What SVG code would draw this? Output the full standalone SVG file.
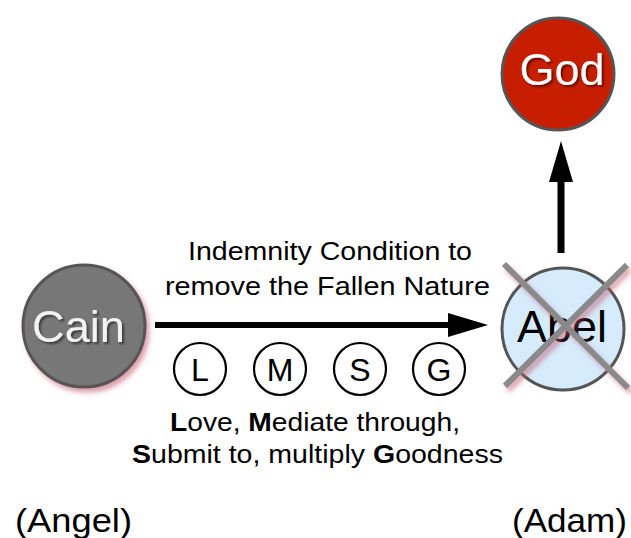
<svg xmlns="http://www.w3.org/2000/svg" width="631" height="538" viewBox="0 0 631 538">
<style>
  text { font-family: "Liberation Sans", Arial, sans-serif; }
  .lbl { font-size: 25px; fill: #000; text-anchor: middle; }
  .big { font-size: 45px; text-anchor: middle; }
  .letter { font-size: 32px; fill: #000; text-anchor: middle; }
  .small { fill: #fff; stroke: #000; stroke-width: 2.2; }
  .node { stroke: #555; stroke-width: 3; }
  .xline { stroke: #8a8a8a; stroke-width: 6; stroke-linecap: butt; }
</style>
<defs>
  <filter id="pinkShadow" x="-30%" y="-30%" width="160%" height="160%">
    <feGaussianBlur in="SourceAlpha" stdDeviation="2.5" result="b"/>
    <feOffset dx="3" dy="4" result="o"/>
    <feFlood flood-color="#c0506a" flood-opacity="0.55"/>
    <feComposite in2="o" operator="in" result="s"/>
    <feMerge><feMergeNode in="s"/><feMergeNode in="SourceGraphic"/></feMerge>
  </filter>
  <filter id="textShadow" x="-20%" y="-20%" width="140%" height="140%">
    <feGaussianBlur in="SourceAlpha" stdDeviation="1.2" result="b"/>
    <feOffset dx="1.5" dy="2" result="o"/>
    <feFlood flood-color="#000" flood-opacity="0.5"/>
    <feComposite in2="o" operator="in" result="s"/>
    <feMerge><feMergeNode in="s"/><feMergeNode in="SourceGraphic"/></feMerge>
  </filter>
</defs>

<g id="connectors">
  <g id="arrow-cain-abel">
    <line x1="155" y1="325" x2="452" y2="325" stroke="#000" stroke-width="6"/>
    <polygon points="448,313 488,325 448,337" fill="#000"/>
  </g>
  <g id="arrow-abel-god">
    <line x1="561" y1="253" x2="561" y2="178" stroke="#000" stroke-width="7"/>
    <polygon points="549,182 561,141 573,182" fill="#000"/>
  </g>
</g>

<g id="node-god">
  <circle cx="558" cy="74" r="56" fill="#c81e00" class="node"/>
  <text x="562" y="85" class="big" fill="#fff" filter="url(#textShadow)">God</text>
</g>

<g id="node-cain">
  <circle cx="84" cy="326" r="61" fill="#777777" class="node" filter="url(#pinkShadow)"/>
  <text x="78.5" y="342" class="big" fill="#f2f2f2" filter="url(#textShadow)" textLength="93" lengthAdjust="spacingAndGlyphs">Cain</text>
</g>

<g id="node-abel">
  <circle cx="563" cy="329" r="61" fill="#d6ecfc" class="node"/>
  <text x="562" y="342" class="big" fill="#000">Abel</text>
  <g filter="url(#pinkShadow)">
    <line x1="504" y1="264" x2="628" y2="388" class="xline"/>
    <line x1="627" y1="265" x2="505" y2="386" class="xline"/>
  </g>
</g>

<g id="label-condition">
  <text x="330" y="260" class="lbl" textLength="284" lengthAdjust="spacingAndGlyphs">Indemnity Condition to</text>
  <text x="327.5" y="295" class="lbl" textLength="325" lengthAdjust="spacingAndGlyphs">remove the Fallen Nature</text>
</g>

<g id="node-L">
  <circle cx="200" cy="369" r="26" class="small"/>
  <text x="200" y="381" class="letter">L</text>
</g>
<g id="node-M">
  <circle cx="280" cy="369" r="26" class="small"/>
  <text x="280" y="381" class="letter">M</text>
</g>
<g id="node-S">
  <circle cx="360" cy="369" r="26" class="small"/>
  <text x="360" y="381" class="letter">S</text>
</g>
<g id="node-G">
  <circle cx="439" cy="369" r="26" class="small"/>
  <text x="439" y="381" class="letter">G</text>
</g>

<g id="label-lmsg">
  <text x="315" y="431" class="lbl" textLength="290" lengthAdjust="spacingAndGlyphs"><tspan font-weight="bold">L</tspan>ove, <tspan font-weight="bold">M</tspan>ediate through,</text>
  <text x="317.5" y="463" class="lbl" textLength="371" lengthAdjust="spacingAndGlyphs"><tspan font-weight="bold">S</tspan>ubmit to, multiply <tspan font-weight="bold">G</tspan>oodness</text>
</g>

<g id="label-angel">
  <text x="73.5" y="532" font-size="34" text-anchor="middle" fill="#000" textLength="117" lengthAdjust="spacingAndGlyphs">(Angel)</text>
</g>
<g id="label-adam">
  <text x="569.5" y="532" font-size="34" text-anchor="middle" fill="#000" textLength="115" lengthAdjust="spacingAndGlyphs">(Adam)</text>
</g>
</svg>
